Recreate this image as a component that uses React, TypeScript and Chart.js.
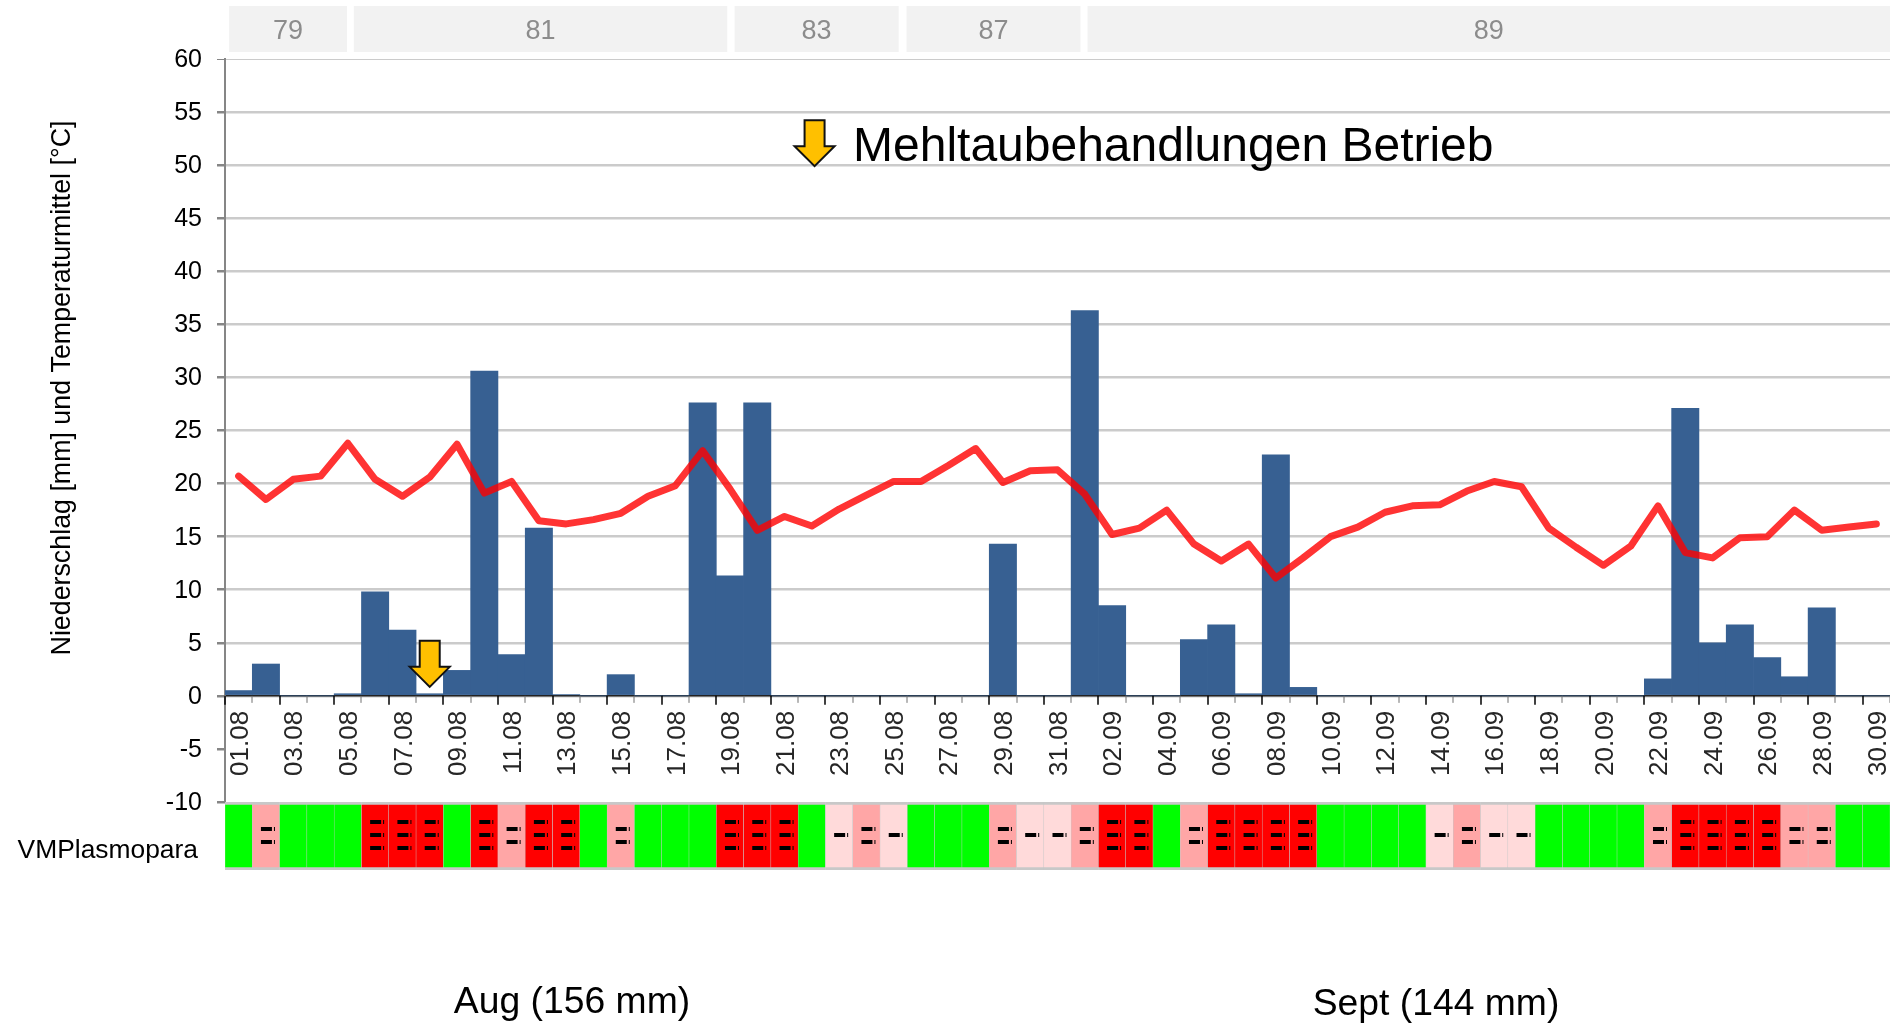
import React, { useEffect, useRef } from "react";
import { Chart, registerables } from "chart.js";

Chart.register(...registerables);

const FONT = '"Liberation Sans", Arial, sans-serif';

const days: string[] = [
  "01.08","02.08","03.08","04.08","05.08","06.08","07.08","08.08","09.08","10.08",
  "11.08","12.08","13.08","14.08","15.08","16.08","17.08","18.08","19.08","20.08",
  "21.08","22.08","23.08","24.08","25.08","26.08","27.08","28.08","29.08","30.08","31.08",
  "01.09","02.09","03.09","04.09","05.09","06.09","07.09","08.09","09.09","10.09",
  "11.09","12.09","13.09","14.09","15.09","16.09","17.09","18.09","19.09","20.09",
  "21.09","22.09","23.09","24.09","25.09","26.09","27.09","28.09","29.09","30.09",
];

const rain: number[] = [
  0.5,3.0,0,0,0.2,9.8,6.2,0.2,2.4,30.6,
  3.9,15.8,0.1,0,2.0,0,0,27.6,11.3,27.6,
  0,0,0,0,0,0,0,0,14.3,0,0,
  36.3,8.5,0,0,5.3,6.7,0.2,22.7,0.8,0,
  0,0,0,0,0,0,0,0,0,0,
  0,1.6,27.1,5.0,6.7,3.6,1.8,8.3,0,0,
];

const temperature: number[] = [
  20.7,18.5,20.4,20.7,23.8,20.4,18.8,20.6,23.7,19.1,
  20.2,16.5,16.2,16.6,17.2,18.8,19.8,23.1,19.5,15.6,
  16.9,16.0,17.6,18.9,20.2,20.2,21.7,23.3,20.1,21.2,21.3,
  19.0,15.2,15.8,17.5,14.3,12.7,14.3,11.1,13.0,15.0,
  15.9,17.3,17.9,18.0,19.3,20.2,19.7,15.8,14.0,12.3,
  14.1,17.9,13.5,13.0,14.9,15.0,17.5,15.6,15.9,16.2,
];

// Plasmopara infection level per day: 0 none, 1 light, 2 medium, 3 strong
const plasmopara: number[] = [
  0,2,0,0,0,3,3,3,0,3,
  2,3,3,0,2,0,0,0,3,3,
  3,0,1,2,1,0,0,0,2,1,1,
  2,3,3,0,2,3,3,3,3,0,
  0,0,0,1,2,1,1,0,0,0,
  0,2,3,3,3,3,2,2,0,0,
];

const levelColors: string[] = ["#00FF00", "#FFDADA", "#FFA6A6", "#FF0000"];

const stageLabels: string[] = ["79", "81", "83", "87", "89"];
const stageFrom: number[] = [-0.35, 4.22, 18.17, 24.47, 31.1];
const stageTo: number[] = [3.97, 17.9, 24.18, 30.84, 60.5];

const treatmentDays: string[] = ["08.08"];
const yTicks = { min: -10, max: 60, step: 5 };

const drawArrow = (ctx: CanvasRenderingContext2D, cx: number, tip: number) => {
  const h = 46, headH = 20, headW = 20, shaftW = 10;
  ctx.save();
  ctx.beginPath();
  ctx.moveTo(cx - shaftW, tip - h);
  ctx.lineTo(cx + shaftW, tip - h);
  ctx.lineTo(cx + shaftW, tip - headH);
  ctx.lineTo(cx + headW, tip - headH);
  ctx.lineTo(cx, tip);
  ctx.lineTo(cx - headW, tip - headH);
  ctx.lineTo(cx - shaftW, tip - headH);
  ctx.closePath();
  ctx.fillStyle = "#FFC000";
  ctx.strokeStyle = "#111111";
  ctx.lineWidth = 2;
  ctx.lineJoin = "miter";
  ctx.fill();
  ctx.stroke();
  ctx.restore();
};

const decorations = {
  id: "decorations",
  afterDatasetsDraw(chart: any) {
    const { ctx, scales } = chart;
    const x = scales.x, y = scales.y, strip = scales.strip;
    const zero = y.getPixelForValue(0);
    ctx.save();

    // x tick marks at the day boundaries
    for (let i = 0; i <= days.length; i++) {
      const px = Math.round(x.getPixelForValue(i - 0.5));
      const even = i % 2 === 0;
      ctx.strokeStyle = even ? "#000000" : "#707070";
      ctx.lineWidth = even ? 1.5 : 1;
      ctx.beginPath();
      ctx.moveTo(px, zero);
      ctx.lineTo(px, zero + (even ? 9 : 7));
      ctx.stroke();
    }

    // dashes of the Plasmopara strip
    const mid = strip.getPixelForValue(0.5) - 1;
    plasmopara.forEach((level, i) => {
      const cx = x.getPixelForValue(i);
      const offsets = level === 3 ? [-13, 0, 13] : level === 2 ? [-6.5, 6.5] : level === 1 ? [0] : [];
      offsets.forEach((o) => {
        const dy = Math.round(mid + o);
        ctx.fillStyle = "#000000";
        ctx.fillRect(cx - 5, dy - 2, 11, 4);
        ctx.fillRect(cx + 8, dy - 2, 1, 4);
      });
    });

    // growth stage banner
    stageLabels.forEach((label, i) => {
      const a = x.getPixelForValue(stageFrom[i]);
      const b = x.getPixelForValue(stageTo[i]);
      ctx.fillStyle = "#F2F2F2";
      ctx.fillRect(a, 6, b - a, 46);
      ctx.fillStyle = "#8C8C8C";
      ctx.font = `27px ${FONT}`;
      ctx.textAlign = "center";
      ctx.textBaseline = "middle";
      ctx.fillText(label, (a + b) / 2, 32);
    });

    // treatment arrows
    treatmentDays.forEach((d) => {
      drawArrow(ctx, x.getPixelForValue(days.indexOf(d)), y.getPixelForValue(0.85));
    });
    drawArrow(ctx, x.getPixelForValue(21.1), y.getPixelForValue(50) + 1);

    ctx.fillStyle = "#000000";
    ctx.textBaseline = "alphabetic";
    ctx.textAlign = "left";
    ctx.font = `48px ${FONT}`;
    ctx.fillText("Mehltaubehandlungen Betrieb", 853, 161);

    ctx.textAlign = "center";
    ctx.font = `37.3px ${FONT}`;
    ctx.fillText("Aug (156 mm)", 572, 1013);
    ctx.fillText("Sept (144 mm)", 1436, 1015);

    // y axis title
    ctx.save();
    ctx.translate(70, 388);
    ctx.rotate(-Math.PI / 2);
    ctx.font = `26.8px ${FONT}`;
    ctx.textAlign = "center";
    ctx.fillText("Niederschlag [mm] und Temperaturmittel [°C]", 0, 0);
    ctx.restore();

    ctx.restore();
  },
};

export default function App() {
  const ref = useRef<HTMLCanvasElement | null>(null);

  useEffect(() => {
    document.body.style.margin = "0";
    document.body.style.background = "#ffffff";
    const chart = new Chart(ref.current as HTMLCanvasElement, {
      type: "bar",
      plugins: [decorations],
      data: {
        labels: days,
        datasets: [
          {
            type: "line",
            label: "Temperaturmittel",
            data: temperature,
            xAxisID: "x",
            yAxisID: "y",
            borderColor: "rgba(255,0,0,0.8)",
            borderWidth: 7,
            pointRadius: 0,
            tension: 0,
            borderCapStyle: "round",
            borderJoinStyle: "round",
            order: 0,
          },
          {
            type: "bar",
            label: "Niederschlag",
            data: rain,
            xAxisID: "x",
            yAxisID: "y",
            backgroundColor: "#376092",
            barPercentage: 1,
            categoryPercentage: 1,
            grouped: false,
            order: 1,
          },
          {
            type: "bar",
            label: "VMPlasmopara",
            data: plasmopara.map(() => 1),
            xAxisID: "x",
            yAxisID: "strip",
            backgroundColor: plasmopara.map((l) => levelColors[l]),
            borderColor: "#C8C8C8",
            borderWidth: { top: 3, bottom: 3, left: 0.5, right: 0.5 },
            borderSkipped: false,
            barPercentage: 1,
            categoryPercentage: 1,
            grouped: false,
            order: 2,
          },
        ],
      } as any,
      options: {
        responsive: false,
        animation: false,
        layout: { padding: { top: 59, bottom: 153, left: 0, right: 0 } },
        plugins: { legend: { display: false }, tooltip: { enabled: false } },
        scales: {
          x: {
            type: "category",
            position: { y: 0 } as any,
            offset: true,
            afterFit: (s: any) => { s.paddingRight = 0; s.paddingLeft = 0; },
            border: { display: true, color: "#222222", width: 1.5 },
            grid: { display: true, drawOnChartArea: false, drawTicks: false, offset: true },
            ticks: {
              autoSkip: false,
              minRotation: 90,
              maxRotation: 90,
              padding: 15,
              labelOffset: 2,
              color: "#262626",
              font: { family: FONT, size: 26 },
              callback: (_v: any, i: number) => (i % 2 === 0 ? days[i] : ""),
            },
          },
          y: {
            type: "linear",
            position: "left",
            stack: "rows",
            stackWeight: 743,
            weight: 2,
            min: yTicks.min,
            max: yTicks.max,
            afterFit: (s: any) => { s.width = 225; },
            border: { display: true, color: "#868686", width: 2 },
            grid: {
              color: (c: any) => (c.tick.value < 0 ? "rgba(0,0,0,0)" : "#CBCBCB"),
              lineWidth: (c: any) => (c.tick.value === 60 ? 1 : 2.5),
              tickColor: "#868686",
              tickLength: 8,
            },
            ticks: {
              autoSkip: false,
              stepSize: yTicks.step,
              padding: 15,
              labelOffset: 1,
              color: "#000000",
              font: { family: FONT, size: 25 },
            },
          },
          strip: {
            type: "linear",
            position: "left",
            stack: "rows",
            stackWeight: 68,
            weight: 1,
            min: 0,
            max: 1,
            afterFit: (s: any) => { s.width = 225; },
            afterBuildTicks: (s: any) => { s.ticks = [{ value: 0.28 }]; },
            border: { display: false },
            grid: { display: false, drawTicks: false },
            ticks: {
              padding: 27,
              color: "#000000",
              font: { family: FONT, size: 26.4 },
              callback: () => "VMPlasmopara",
            },
          },
        },
      } as any,
    });
    return () => chart.destroy();
  }, []);

  return (
    <canvas
      ref={ref}
      width={1890}
      height={1023}
      style={{ position: "absolute", left: 0, top: 0, width: 1890, height: 1023, display: "block" }}
    />
  );
}
